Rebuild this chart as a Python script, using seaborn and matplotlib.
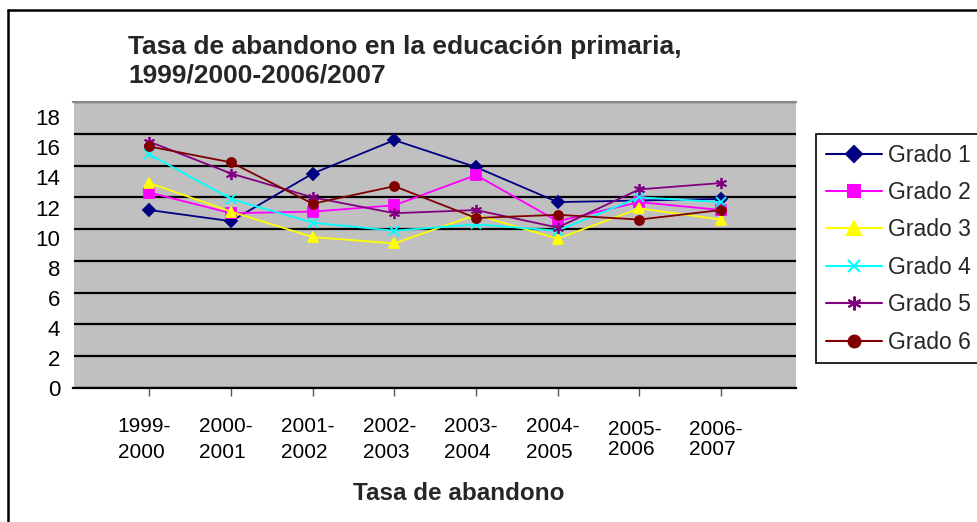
import matplotlib
matplotlib.use("Agg")
import matplotlib.pyplot as plt
import matplotlib.transforms as mtransforms
from matplotlib.lines import Line2D
import seaborn as sns
import pandas as pd

# ---- data ----
periods = ["1999-\n2000", "2000-\n2001", "2001-\n2002", "2002-\n2003",
           "2003-\n2004", "2004-\n2005", "2005-\n2006", "2006-\n2007"]
grado1 = [11.2, 10.5, 13.5, 15.6, 13.9, 11.7, 11.8, 11.9]
grado2 = [12.3, 11.0, 11.1, 11.5, 13.4, 10.5, 11.7, 11.2]
grado3 = [12.9, 11.1, 9.5, 9.1, 10.9, 9.4, 11.3, 10.6]
grado4 = [14.7, 11.9, 10.4, 9.9, 10.3, 9.9, 12.0, 11.7]
grado5 = [15.5, 13.5, 12.0, 11.0, 11.2, 10.1, 12.5, 12.9]
grado6 = [15.2, 14.2, 11.6, 12.7, 10.7, 10.9, 10.6, 11.2]
series_names = ["Grado 1", "Grado 2", "Grado 3", "Grado 4", "Grado 5", "Grado 6"]
series_values = [grado1, grado2, grado3, grado4, grado5, grado6]
y_ticks = [0, 2, 4, 6, 8, 10, 12, 14, 16, 18]

colors = ["#000080", "#FF00FF", "#FFFF00", "#00FFFF", "#800080", "#800000"]
markers = ["D", "s", "^", "x", (6, 2, 0), "o"]
msizes = [6, 6.5, 7.5, 7, 8, 6.5]

sns.set_style("white")
plt.rcParams["font.family"] = ["Liberation Sans", "DejaVu Sans"]

fig = plt.figure(figsize=(9.77, 5.22), dpi=100)
W, H = 977, 522
ax = fig.add_axes([73.5 / W, 1 - 388 / H, (796 - 73.5) / W, (388 - 102) / H])
ax.set_facecolor("#C0C0C0")

rows = []
for name, vals in zip(series_names, series_values):
    for i, v in enumerate(vals):
        rows.append({"pos": i, "valor": v, "grado": name})
df = pd.DataFrame(rows)

handles = []
for name, col, mk, ms in zip(series_names, colors, markers, msizes):
    sub = df[df["grado"] == name]
    sns.lineplot(data=sub, x="pos", y="valor", ax=ax, color=col, marker=mk,
                 markersize=ms, markeredgecolor=col, markeredgewidth=1.3,
                 linewidth=1.3, label=name, legend=False, zorder=3)
    handles.append(Line2D([], [], color=col, marker=mk, markersize=ms + 2,
                          markeredgecolor=col, markeredgewidth=1.5, linewidth=1.5))

ax.set_xlim(-0.93, 7.92)
ax.set_ylim(0, 18)
ax.set_yticks(y_ticks)
ax.set_yticklabels([str(t) for t in y_ticks])
ax.set_xticks(range(len(periods)))
ax.set_xticklabels(periods)
ax.set_xlabel("")
ax.set_ylabel("")

ax.grid(axis="y", color="black", linewidth=1.6)
ax.grid(axis="x", visible=False)
ax.set_axisbelow(True)
for s in ["left", "right"]:
    ax.spines[s].set_visible(False)
ax.spines["top"].set_color("#8a8a8a")
ax.spines["top"].set_linewidth(1.5)
ax.spines["bottom"].set_color("black")
ax.spines["bottom"].set_linewidth(1.6)

ax.tick_params(axis="y", length=0, pad=9.5, labelsize=16, colors="black")
ax.tick_params(axis="x", length=5.8, width=1, color="#555555", pad=31.5,
               labelsize=15, labelcolor="black", direction="out", bottom=True)

# x tick labels: centred block, left-aligned lines
for i, lab in enumerate(ax.get_xticklabels()):
    lab.set_verticalalignment("center")
    lab.set_multialignment("left")
    lab.set_linespacing(1.45 if i < 6 else 1.07)
    lab.set_transform(lab.get_transform() +
                      mtransforms.ScaledTranslation(-5 / 100, 0, fig.dpi_scale_trans))

# y tick labels slightly compressed relative to gridlines (as in reference)
for t, lab in zip(y_ticks, ax.get_yticklabels()):
    lab.set_transform(lab.get_transform() +
                      mtransforms.ScaledTranslation(0, -(0.85 * t) / 100, fig.dpi_scale_trans))

# title and axis title
fig.text(128 / W, 1 - 35 / H, "Tasa de abandono en la educación primaria,\n1999/2000-2006/2007",
         ha="left", va="top", fontsize=19, fontweight="bold", linespacing=1.25)
fig.text(459 / W, 1 - 493 / H, "Tasa de abandono", ha="center", va="center",
         fontsize=17.5, fontweight="bold")

leg = fig.legend(handles, series_names, loc="upper left",
                 bbox_to_anchor=(816 / W, 1 - 134 / H), bbox_transform=fig.transFigure,
                 fontsize=16.5, frameon=True, fancybox=False, framealpha=1,
                 edgecolor="black", borderpad=0.42, handlelength=2.45,
                 handletextpad=0.27, labelspacing=0.63, borderaxespad=0)
leg.get_frame().set_linewidth(1.2)
# nudge legend contents slightly down inside a fixed frame top
leg._legend_box.set_offset  # keep default layout

# outer chart border (top and left visible)
fig.add_artist(Line2D([8 / W, 8 / W], [0, 1 - 10 / H], transform=fig.transFigure,
                      color="black", linewidth=1.8))
fig.add_artist(Line2D([8 / W, 1], [1 - 10 / H, 1 - 10 / H], transform=fig.transFigure,
                      color="black", linewidth=1.8))

fig.savefig("out.png", dpi=100)
